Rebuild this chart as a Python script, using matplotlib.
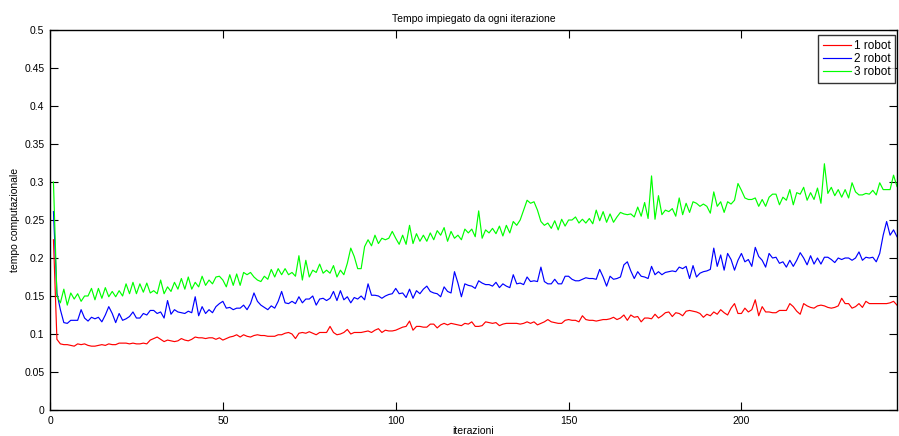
import numpy as np
import matplotlib
matplotlib.use("Agg")
import matplotlib.pyplot as plt

plt.rcParams['font.family'] = ['Liberation Sans', 'DejaVu Sans']

# Tempo per iterazione, 1 robot
t_1robot = [
    0.224, 0.093, 0.087, 0.086, 0.086, 0.085, 0.084, 0.087, 0.086, 0.087,
    0.085, 0.084, 0.084, 0.085, 0.086, 0.085, 0.087, 0.086, 0.086, 0.088,
    0.088, 0.088, 0.087, 0.088, 0.087, 0.087, 0.088, 0.087, 0.092, 0.094,
    0.096, 0.093, 0.090, 0.092, 0.091, 0.090, 0.091, 0.094, 0.092, 0.091,
    0.093, 0.096, 0.095, 0.095, 0.094, 0.095, 0.095, 0.093, 0.095, 0.092,
    0.094, 0.096, 0.097, 0.099, 0.096, 0.099, 0.097, 0.096, 0.098, 0.099,
    0.098, 0.098, 0.097, 0.097, 0.097, 0.099, 0.099, 0.101, 0.102, 0.100,
    0.094, 0.101, 0.102, 0.101, 0.103, 0.101, 0.099, 0.102, 0.102, 0.102,
    0.110, 0.102, 0.099, 0.100, 0.102, 0.106, 0.100, 0.102, 0.102, 0.102,
    0.103, 0.104, 0.102, 0.105, 0.107, 0.102, 0.105, 0.104, 0.104, 0.105,
    0.107, 0.109, 0.110, 0.117, 0.105, 0.110, 0.110, 0.109, 0.109, 0.113,
    0.113, 0.108, 0.112, 0.114, 0.112, 0.114, 0.113, 0.112, 0.111, 0.114,
    0.113, 0.116, 0.110, 0.110, 0.111, 0.116, 0.115, 0.114, 0.115, 0.111,
    0.113, 0.114, 0.114, 0.114, 0.114, 0.113, 0.114, 0.116, 0.114, 0.116,
    0.112, 0.114, 0.116, 0.119, 0.116, 0.115, 0.114, 0.114, 0.118, 0.119,
    0.118, 0.118, 0.116, 0.124, 0.119, 0.118, 0.118, 0.117, 0.118, 0.119,
    0.119, 0.120, 0.122, 0.119, 0.121, 0.125, 0.118, 0.125, 0.122, 0.123,
    0.116, 0.121, 0.121, 0.120, 0.126, 0.121, 0.124, 0.128, 0.129, 0.123,
    0.128, 0.127, 0.124, 0.130, 0.131, 0.130, 0.129, 0.127, 0.122, 0.126,
    0.124, 0.129, 0.126, 0.132, 0.128, 0.125, 0.134, 0.140, 0.127, 0.127,
    0.134, 0.129, 0.132, 0.145, 0.124, 0.136, 0.129, 0.129, 0.128, 0.128,
    0.131, 0.131, 0.131, 0.140, 0.136, 0.130, 0.126, 0.140, 0.137, 0.135,
    0.134, 0.137, 0.138, 0.137, 0.135, 0.134, 0.135, 0.137, 0.147, 0.140,
    0.140, 0.134, 0.136, 0.140, 0.135, 0.143, 0.140, 0.140, 0.140, 0.140,
    0.140, 0.140, 0.141, 0.143, 0.138,
]

# Tempo per iterazione, 2 robot
t_2robot = [
    0.261, 0.154, 0.132, 0.115, 0.114, 0.118, 0.118, 0.118, 0.132, 0.121,
    0.117, 0.122, 0.120, 0.122, 0.116, 0.125, 0.136, 0.127, 0.115, 0.127,
    0.118, 0.120, 0.123, 0.129, 0.121, 0.121, 0.127, 0.125, 0.131, 0.131,
    0.127, 0.129, 0.121, 0.144, 0.126, 0.132, 0.129, 0.128, 0.127, 0.130,
    0.128, 0.149, 0.124, 0.136, 0.127, 0.132, 0.128, 0.136, 0.140, 0.143,
    0.134, 0.135, 0.132, 0.134, 0.134, 0.138, 0.132, 0.140, 0.154, 0.143,
    0.138, 0.135, 0.132, 0.137, 0.134, 0.143, 0.156, 0.141, 0.140, 0.143,
    0.140, 0.149, 0.141, 0.146, 0.146, 0.150, 0.138, 0.146, 0.147, 0.144,
    0.147, 0.156, 0.144, 0.157, 0.145, 0.149, 0.141, 0.148, 0.146, 0.150,
    0.145, 0.166, 0.151, 0.151, 0.150, 0.147, 0.150, 0.152, 0.153, 0.160,
    0.153, 0.154, 0.148, 0.159, 0.147, 0.157, 0.153, 0.159, 0.163, 0.156,
    0.154, 0.153, 0.149, 0.162, 0.156, 0.154, 0.182, 0.167, 0.149, 0.166,
    0.164, 0.163, 0.160, 0.170, 0.167, 0.165, 0.165, 0.163, 0.168, 0.161,
    0.166, 0.163, 0.161, 0.178, 0.166, 0.167, 0.165, 0.175, 0.169, 0.170,
    0.169, 0.188, 0.169, 0.166, 0.166, 0.172, 0.166, 0.166, 0.176, 0.176,
    0.172, 0.170, 0.170, 0.172, 0.174, 0.173, 0.173, 0.172, 0.185, 0.175,
    0.163, 0.176, 0.172, 0.173, 0.175, 0.191, 0.195, 0.183, 0.173, 0.182,
    0.176, 0.175, 0.173, 0.189, 0.178, 0.182, 0.178, 0.181, 0.182, 0.183,
    0.182, 0.188, 0.186, 0.189, 0.173, 0.190, 0.175, 0.180, 0.182, 0.183,
    0.185, 0.213, 0.189, 0.204, 0.184, 0.206, 0.198, 0.184, 0.197, 0.206,
    0.195, 0.198, 0.189, 0.214, 0.202, 0.197, 0.188, 0.206, 0.200, 0.201,
    0.193, 0.195, 0.188, 0.197, 0.189, 0.197, 0.207, 0.200, 0.191, 0.203,
    0.192, 0.200, 0.192, 0.201, 0.201, 0.198, 0.194, 0.200, 0.198, 0.200,
    0.200, 0.197, 0.200, 0.208, 0.197, 0.201, 0.200, 0.201, 0.195, 0.206,
    0.230, 0.248, 0.230, 0.237, 0.228,
]

# Tempo per iterazione, 3 robot
t_3robot = [
    0.300, 0.150, 0.141, 0.159, 0.138, 0.154, 0.146, 0.153, 0.143, 0.150,
    0.150, 0.160, 0.145, 0.160, 0.147, 0.161, 0.149, 0.156, 0.149, 0.157,
    0.150, 0.166, 0.153, 0.168, 0.153, 0.166, 0.155, 0.167, 0.154, 0.157,
    0.153, 0.171, 0.153, 0.162, 0.156, 0.168, 0.159, 0.173, 0.159, 0.175,
    0.159, 0.168, 0.162, 0.176, 0.164, 0.171, 0.166, 0.175, 0.176, 0.171,
    0.162, 0.178, 0.164, 0.179, 0.164, 0.181, 0.178, 0.181, 0.175, 0.171,
    0.169, 0.176, 0.172, 0.185, 0.175, 0.186, 0.178, 0.186, 0.178, 0.181,
    0.176, 0.203, 0.171, 0.197, 0.175, 0.184, 0.181, 0.192, 0.180, 0.184,
    0.180, 0.190, 0.175, 0.184, 0.178, 0.193, 0.213, 0.202, 0.186, 0.186,
    0.215, 0.224, 0.216, 0.230, 0.219, 0.226, 0.224, 0.226, 0.235, 0.226,
    0.218, 0.230, 0.218, 0.243, 0.219, 0.232, 0.222, 0.230, 0.222, 0.233,
    0.224, 0.236, 0.230, 0.240, 0.222, 0.235, 0.226, 0.230, 0.224, 0.238,
    0.233, 0.238, 0.228, 0.262, 0.226, 0.237, 0.233, 0.239, 0.232, 0.242,
    0.229, 0.243, 0.233, 0.248, 0.243, 0.250, 0.263, 0.276, 0.272, 0.274,
    0.263, 0.248, 0.243, 0.246, 0.239, 0.249, 0.237, 0.251, 0.242, 0.250,
    0.250, 0.254, 0.246, 0.251, 0.246, 0.252, 0.245, 0.263, 0.249, 0.261,
    0.247, 0.258, 0.247, 0.254, 0.260, 0.258, 0.257, 0.258, 0.254, 0.267,
    0.255, 0.273, 0.252, 0.308, 0.251, 0.282, 0.257, 0.263, 0.261, 0.265,
    0.255, 0.279, 0.257, 0.272, 0.260, 0.274, 0.272, 0.268, 0.271, 0.268,
    0.259, 0.287, 0.268, 0.274, 0.260, 0.274, 0.271, 0.276, 0.298, 0.289,
    0.279, 0.277, 0.277, 0.279, 0.268, 0.277, 0.268, 0.280, 0.284, 0.284,
    0.270, 0.280, 0.276, 0.290, 0.270, 0.286, 0.284, 0.293, 0.276, 0.286,
    0.277, 0.292, 0.272, 0.324, 0.285, 0.293, 0.282, 0.290, 0.280, 0.290,
    0.279, 0.299, 0.287, 0.283, 0.283, 0.285, 0.284, 0.289, 0.283, 0.299,
    0.290, 0.290, 0.290, 0.309, 0.294,
]

series_labels = ['1 robot', '2 robot', '3 robot']
x_ticks = [0, 50, 100, 150, 200]
y_ticks = [0, 0.05, 0.1, 0.15, 0.2, 0.25, 0.3, 0.35, 0.4, 0.45, 0.5]
y_tick_labels = ['0', '0.05', '0.1', '0.15', '0.2', '0.25', '0.3', '0.35',
                 '0.4', '0.45', '0.5']

iterations = np.arange(1, len(t_1robot) + 1)

fig = plt.figure(figsize=(8.99, 4.36), dpi=100)
ax = fig.add_axes([50 / 899, 26 / 436, 847 / 899, 380 / 436])

colors = ['#ff0000', '#0000ff', '#00ff00']
for data, lab, col in zip([t_1robot, t_2robot, t_3robot], series_labels, colors):
    ax.plot(iterations, data, color=col, linewidth=0.85, label=lab)

ax.set_xlim(0, len(t_1robot))
ax.set_ylim(0, 0.5)
ax.set_xticks(x_ticks)
ax.set_yticks(y_ticks)
ax.set_yticklabels(y_tick_labels)

ax.tick_params(direction='in', length=5.5, width=0.8, top=True, right=True,
               labelsize=7.5, pad=4)
for sp in ax.spines.values():
    sp.set_linewidth(1.0)

ax.set_title('Tempo impiegato da ogni iterazione', fontsize=7.5, pad=6)
ax.set_xlabel('iterazioni', fontsize=7.5, labelpad=0.5)
ax.set_ylabel('tempo computazionale', fontsize=7.5, labelpad=3)

leg = ax.legend(loc='upper right', bbox_to_anchor=(0.998, 0.987), fontsize=8.5,
                frameon=True, fancybox=False, borderpad=0.4, labelspacing=0.12,
                handlelength=2.4, handletextpad=0.25, borderaxespad=0)
leg.get_frame().set_edgecolor('black')
leg.get_frame().set_linewidth(1.0)

fig.savefig('out.png', dpi=100)
